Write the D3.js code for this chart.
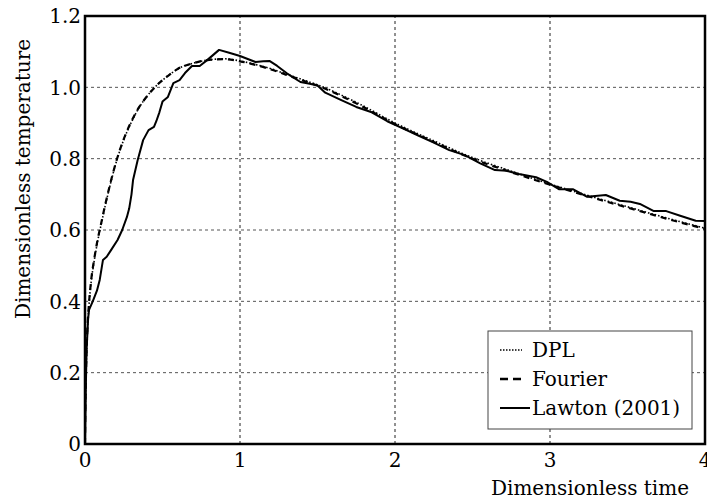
<!DOCTYPE html>
<html>
<head>
<meta charset="utf-8">
<script src="https://cdn.jsdelivr.net/npm/d3@7"></script>
<style>
  html, body { margin: 0; padding: 0; background: #fff; overflow: hidden; }
  svg { display: block; }
</style>
</head>
<body>
<div id="chart"></div>
<script>
// model curves (DPL and Fourier share the time grid)
const modelTime = [0, 0.003, 0.008, 0.015, 0.025, 0.04, 0.06, 0.08, 0.10, 0.13, 0.16, 0.20, 0.25, 0.30, 0.35, 0.40,
    0.45, 0.50, 0.55, 0.60, 0.70, 0.80, 0.90, 1.0, 1.1, 1.2, 1.3, 1.4, 1.5, 1.75, 2.0, 2.25, 2.5, 2.75, 3.0, 3.25,
    3.5, 3.75, 4.0];
const fourierTemp = [0, 0.13, 0.23, 0.32, 0.39, 0.46, 0.52, 0.57, 0.61, 0.67, 0.725, 0.79, 0.855, 0.905, 0.945, 0.975,
    1.0, 1.02, 1.037, 1.052, 1.068, 1.077, 1.079, 1.073, 1.063, 1.05, 1.035, 1.02, 1.005, 0.955, 0.897, 0.847,
    0.8, 0.762, 0.727, 0.694, 0.663, 0.632, 0.603];
const dplTemp = [0, 0.12, 0.22, 0.31, 0.385, 0.455, 0.515, 0.565, 0.607, 0.667, 0.722, 0.788, 0.853, 0.903, 0.944, 0.975,
    1.0, 1.02, 1.037, 1.052, 1.068, 1.077, 1.08, 1.074, 1.064, 1.052, 1.037, 1.022, 1.007, 0.958, 0.9, 0.85,
    0.803, 0.765, 0.729, 0.696, 0.665, 0.634, 0.605];

// Lawton (2001) measurement
const lawtonTime = [0, 0.005, 0.01, 0.02, 0.026, 0.05, 0.077, 0.095, 0.116, 0.14, 0.17, 0.21, 0.24, 0.27, 0.285, 0.30,
    0.31, 0.34, 0.375, 0.41, 0.445, 0.46, 0.48, 0.50, 0.535, 0.57, 0.61, 0.645, 0.69, 0.74, 0.79, 0.865, 0.93, 1.0,
    1.1, 1.15, 1.19, 1.24, 1.3, 1.39, 1.45, 1.5, 1.55, 1.65, 1.75, 1.85, 1.95, 2.05, 2.15, 2.25, 2.35, 2.45, 2.55,
    2.645, 2.72, 2.80, 2.91, 2.98, 3.06, 3.15, 3.24, 3.36, 3.45, 3.52, 3.58, 3.67, 3.75, 3.84, 3.94, 4.0];
const lawtonTemp = [0, 0.15, 0.26, 0.35, 0.376, 0.40, 0.43, 0.46, 0.516, 0.525, 0.545, 0.572, 0.60, 0.636, 0.66, 0.70,
    0.74, 0.796, 0.852, 0.88, 0.889, 0.905, 0.93, 0.96, 0.973, 1.012, 1.02, 1.04, 1.06, 1.06, 1.077, 1.105, 1.097, 1.088,
    1.071, 1.073, 1.074, 1.06, 1.04, 1.015, 1.01, 1.005, 0.985, 0.965, 0.945, 0.93, 0.905, 0.885, 0.865, 0.845, 0.824,
    0.81, 0.787, 0.768, 0.766, 0.757, 0.748, 0.735, 0.714, 0.714, 0.693, 0.698, 0.682, 0.679, 0.673, 0.653, 0.653,
    0.640, 0.626, 0.625];

const xTicks = [0, 1, 2, 3, 4];
const yTicks = [0, 0.2, 0.4, 0.6, 0.8, 1.0, 1.2];
const yTickLabels = ["0", "0.2", "0.4", "0.6", "0.8", "1.0", "1.2"];
const legendLabels = ["DPL", "Fourier", "Lawton (2001)"];

class TempChart {
    constructor(parent, width, height) {
        this.parent = d3.select(parent);
        this.w = width;
        this.h = height;
        this.margin = {top: 16, right: 2, bottom: 56, left: 85};
        this.init();
    }

    init() {
        this.svg = this.parent.append("svg")
            .attr("width", this.w)
            .attr("height", this.h)
            .attr("font-family", "DejaVu Serif")
            .attr("font-size", 20);
        this.prepScales();
        this.render();
    }

    prepScales() {
        this.x = d3.scaleLinear().domain([0, 4]).range([this.margin.left, this.w - this.margin.right]);
        this.y = d3.scaleLinear().domain([0, 1.2]).range([this.h - this.margin.bottom, this.margin.top]);
    }

    render() {
        const x = this.x, y = this.y;
        const [x0, x1] = x.range();
        const [y0, y1] = y.range();

        // grid
        const grid = this.svg.append("g");
        grid.selectAll("line.vg")
            .data(xTicks.slice(1, -1))
            .enter().append("line")
            .attr("x1", d => x(d)).attr("x2", d => x(d))
            .attr("y1", y0).attr("y2", y1)
            .attr("stroke", "#222").attr("stroke-width", 1).attr("stroke-dasharray", "3,3");
        grid.selectAll("line.hg")
            .data(yTicks.slice(1, -1))
            .enter().append("line")
            .attr("x1", x0).attr("x2", x1)
            .attr("y1", d => y(d)).attr("y2", d => y(d))
            .attr("stroke", "#555").attr("stroke-width", 1).attr("stroke-dasharray", "3,3");

        // curves
        this.svg.append("clipPath").attr("id", "plot-clip")
            .append("rect").attr("x", x0).attr("y", y1).attr("width", x1 - x0).attr("height", y0 - y1);
        const plot = this.svg.append("g").attr("clip-path", "url(#plot-clip)");

        const smooth = d3.line().x(d => x(d[0])).y(d => y(d[1])).curve(d3.curveMonotoneX);
        const rough = d3.line().x(d => x(d[0])).y(d => y(d[1]));

        plot.append("path")
            .attr("d", smooth(d3.zip(modelTime, fourierTemp)))
            .attr("fill", "none").attr("stroke", "#000")
            .attr("stroke-width", 2.2).attr("stroke-dasharray", "6,5");
        plot.append("path")
            .attr("d", smooth(d3.zip(modelTime, dplTemp)))
            .attr("fill", "none").attr("stroke", "#000")
            .attr("stroke-width", 1.6).attr("stroke-dasharray", "1.5,2");
        plot.append("path")
            .attr("d", rough(d3.zip(lawtonTime, lawtonTemp)))
            .attr("fill", "none").attr("stroke", "#000")
            .attr("stroke-width", 2).attr("stroke-linejoin", "round");

        // frame
        this.svg.append("rect")
            .attr("x", x0).attr("y", y1).attr("width", x1 - x0).attr("height", y0 - y1)
            .attr("fill", "none").attr("stroke", "#000").attr("stroke-width", 2.5);

        // tick labels
        this.svg.append("g").selectAll("text")
            .data(xTicks)
            .enter().append("text")
            .attr("x", d => x(d)).attr("y", y0 + 23)
            .attr("text-anchor", "middle")
            .text(d => d);
        this.svg.append("g").selectAll("text")
            .data(yTicks)
            .enter().append("text")
            .attr("x", x0 - 4).attr("y", d => y(d))
            .attr("dy", "0.36em")
            .attr("text-anchor", "end")
            .text((d, i) => yTickLabels[i]);

        // axis titles
        this.svg.append("text")
            .attr("x", 590).attr("y", this.h - 5)
            .attr("text-anchor", "middle")
            .text("Dimensionless time");
        this.svg.append("text")
            .attr("transform", `translate(30, 179) rotate(-90)`)
            .attr("text-anchor", "middle")
            .text("Dimensionless temperature");

        this.renderLegend();
    }

    renderLegend() {
        const lg = this.svg.append("g").attr("transform", "translate(488, 331)");
        lg.append("rect")
            .attr("width", 204).attr("height", 98)
            .attr("fill", "#fff").attr("stroke", "#444").attr("stroke-width", 1);

        const styles = [
            {w: 1.6, dash: "1.5,1.5", len: 22},
            {w: 2.6, dash: "8,5", len: 22},
            {w: 2, dash: null, len: 30}
        ];
        const rows = lg.selectAll("g.row")
            .data(legendLabels)
            .enter().append("g")
            .attr("transform", (d, i) => `translate(0, ${26 + i * 29})`);
        rows.append("line")
            .attr("x1", 12).attr("x2", (d, i) => 12 + styles[i].len)
            .attr("y1", -7).attr("y2", -7)
            .attr("stroke", "#000")
            .attr("stroke-width", (d, i) => styles[i].w)
            .attr("stroke-dasharray", (d, i) => styles[i].dash);
        rows.append("text")
            .attr("x", 44).attr("y", 0)
            .text(d => d);
    }
}

new TempChart("#chart", 707, 500);
</script>
</body>
</html>
